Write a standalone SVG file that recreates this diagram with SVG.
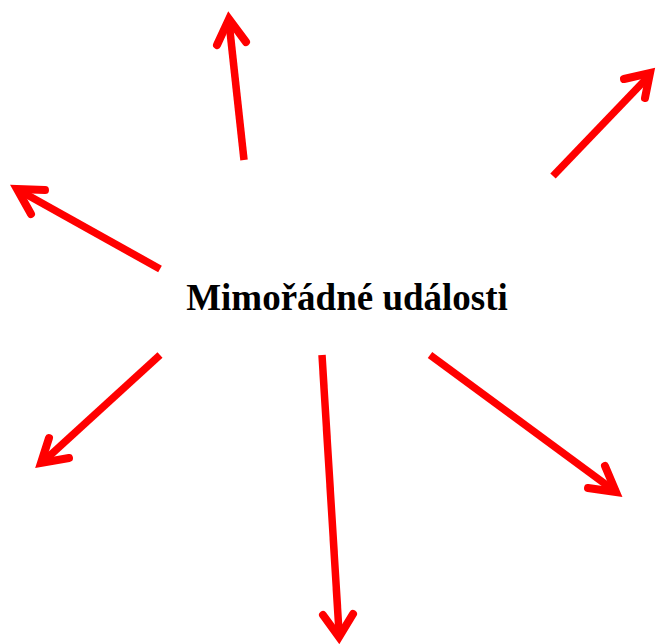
<svg xmlns="http://www.w3.org/2000/svg" width="656" height="644" viewBox="0 0 656 644">
<style>
.shaft{fill:none;stroke:#ff0000;stroke-width:7.5;stroke-linecap:butt}
.head{fill:none;stroke:#ff0000;stroke-width:8;stroke-linecap:round;stroke-linejoin:miter;stroke-miterlimit:10}
.label{font-family:"Liberation Serif","Times New Roman",serif;font-weight:bold;font-size:37px;fill:#000}
</style>
<rect width="656" height="644" fill="#fff"/>
<g id="connectors">
<g id="arrow-up"><line class="shaft" x1="244" y1="160" x2="229" y2="22"/><polyline class="head" points="217,45 229,19 246,42"/></g>
<g id="arrow-ne"><line class="shaft" x1="553" y1="176" x2="647" y2="78"/><polyline class="head" points="624,79 650,73 645,98"/></g>
<g id="arrow-nw"><line class="shaft" x1="160" y1="269" x2="22" y2="192"/><polyline class="head" points="45,190 17,189 31,214"/></g>
<g id="arrow-sw"><line class="shaft" x1="160" y1="355" x2="45" y2="460"/><polyline class="head" points="49,438 41,463 69,458"/></g>
<g id="arrow-down"><line class="shaft" x1="322" y1="355" x2="339" y2="632"/><polyline class="head" points="323,615 339,637 353,614"/></g>
<g id="arrow-se"><line class="shaft" x1="430" y1="355" x2="612" y2="489"/><polyline class="head" points="605,466 616,492 588,488"/></g>
</g>
<g id="node-center"><text class="label" x="347" y="310" text-anchor="middle">Mimořádné události</text></g>
</svg>
